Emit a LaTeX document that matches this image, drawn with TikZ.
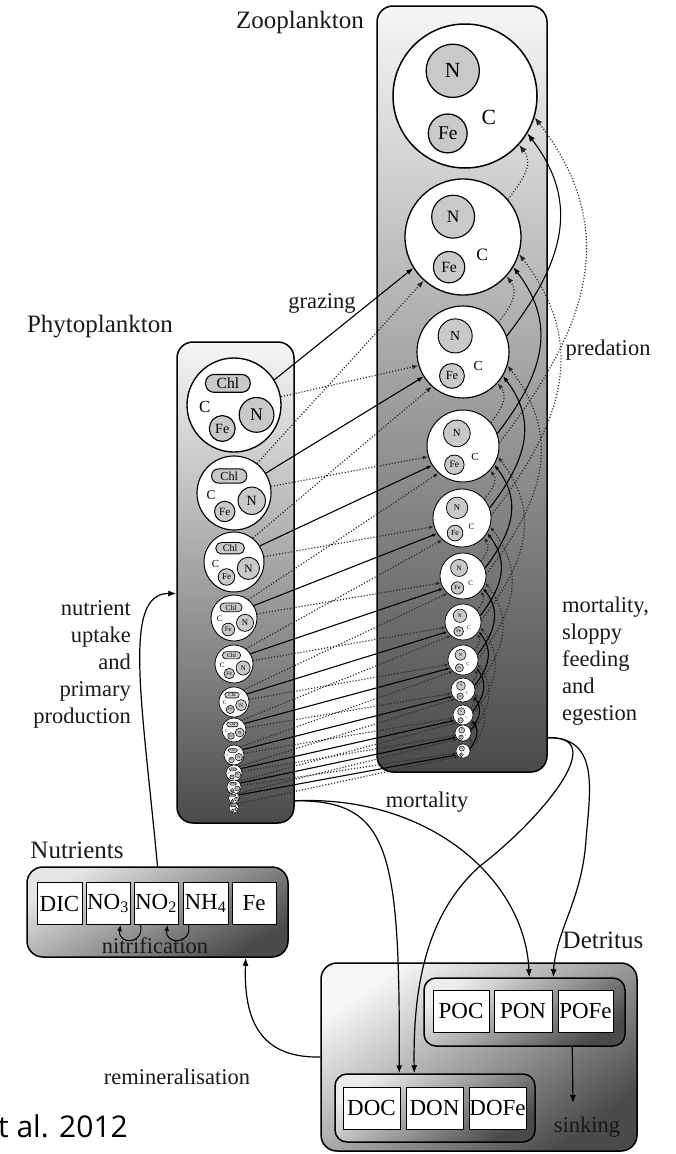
\documentclass[tikz,border=0pt]{standalone}
\usepackage{fontspec}
\setmainfont{Liberation Serif}
\newfontfamily\capfont{Open Sans}
\usetikzlibrary{arrows.meta,calc}
\definecolor{lite}{HTML}{F6F6F6}
\definecolor{dark}{HTML}{4A4A4A}
\definecolor{subfill}{HTML}{C9C9C9}
\tikzset{
  panel/.style={draw=black, line width=1.5pt, rounded corners=16pt, inner sep=0pt},
  grp/.style={draw=black, line width=1.5pt, rounded corners=12pt, inner sep=0pt},
  item/.style={draw=black, line width=1pt, fill=white, inner sep=0pt, minimum height=42pt, font=\fontsize{23}{25}\selectfont},
  cell/.style={draw=black, circle, fill=white, inner sep=0pt},
  subc/.style={draw=black, circle, fill=subfill, inner sep=0pt},
  chlbox/.style={draw=black, rectangle, fill=subfill, inner sep=0pt},
  lab/.style={font=\fontsize{22.5}{27}\selectfont, inner sep=0pt, text=black!90},
  title/.style={font=\fontsize{25}{28}\selectfont, inner sep=0pt, text=black!90},
  flow/.style={line width=1.2pt, -{Latex[length=8pt,width=6pt]}},
  solidline/.style={line width=1.1pt},
  dotline/.style={line width=1.2pt, black!85, dash pattern=on 1.1pt off 1.9pt},
}
% zooplankton cell: name, x, y, r
\newcommand\zoocell[4]{%
  \pgfmathsetmacro\zd{2*#4}%
  \pgfmathsetmacro\zlw{min(1.5,0.4+0.016*#4)}%
  \pgfmathsetmacro\zslw{0.85*\zlw}%
  \node[cell, minimum size=\zd pt, line width=\zlw pt] (#1) at (#2,#3) {};
  \pgfmathsetmacro\znx{#2-0.17*#4}\pgfmathsetmacro\zny{#3-0.35*#4}%
  \pgfmathsetmacro\zns{0.74*#4}\pgfmathsetmacro\znf{0.3*#4}%
  \node[subc, minimum size=\zns pt, line width=\zslw pt, font=\fontsize{\znf}{\znf}\selectfont] (#1n) at (\znx,\zny) {N};
  \pgfmathsetmacro\zfx{#2-0.24*#4}\pgfmathsetmacro\zfy{#3+0.52*#4}%
  \pgfmathsetmacro\zfs{0.54*#4}\pgfmathsetmacro\zff{0.27*#4}%
  \node[subc, minimum size=\zfs pt, line width=\zslw pt, font=\fontsize{\zff}{\zff}\selectfont] (#1fe) at (\zfx,\zfy) {Fe};
  \pgfmathsetmacro\zcx{#2+0.33*#4}\pgfmathsetmacro\zcy{#3+0.3*#4}%
  \node[inner sep=0pt, font=\fontsize{\znf}{\znf}\selectfont] (#1c) at (\zcx,\zcy) {C};
}
% phytoplankton cell: name, x, y, r
\newcommand\phycell[4]{%
  \pgfmathsetmacro\pd{2*#4}%
  \pgfmathsetmacro\plw{min(1.5,0.4+0.02*#4)}%
  \pgfmathsetmacro\pslw{0.85*\plw}%
  \node[cell, minimum size=\pd pt, line width=\plw pt] (#1) at (#2,#3) {};
  \pgfmathsetmacro\pkx{#2-0.13*#4}\pgfmathsetmacro\pky{#3-0.46*#4}%
  \pgfmathsetmacro\pkw{0.95*#4}\pgfmathsetmacro\pkh{0.38*#4}\pgfmathsetmacro\pkr{0.18*#4}%
  \pgfmathsetmacro\pkf{0.33*#4}%
  \node[chlbox, minimum width=\pkw pt, minimum height=\pkh pt, rounded corners=\pkr pt, line width=\pslw pt, font=\fontsize{\pkf}{\pkf}\selectfont] (#1chl) at (\pkx,\pky) {Chl};
  \pgfmathsetmacro\pnx{#2+0.48*#4}\pgfmathsetmacro\pny{#3+0.21*#4}%
  \pgfmathsetmacro\pns{0.74*#4}\pgfmathsetmacro\pnf{0.38*#4}%
  \node[subc, minimum size=\pns pt, line width=\pslw pt, font=\fontsize{\pnf}{\pnf}\selectfont] (#1n) at (\pnx,\pny) {N};
  \pgfmathsetmacro\pfx{#2-0.25*#4}\pgfmathsetmacro\pfy{#3+0.5*#4}%
  \pgfmathsetmacro\pfs{0.55*#4}\pgfmathsetmacro\pff{0.3*#4}%
  \node[subc, minimum size=\pfs pt, line width=\pslw pt, font=\fontsize{\pff}{\pff}\selectfont] (#1fe) at (\pfx,\pfy) {Fe};
  \pgfmathsetmacro\pcx{#2-0.62*#4}\pgfmathsetmacro\pcy{#3+0.05*#4}%
  \pgfmathsetmacro\pcf{0.36*#4}%
  \node[inner sep=0pt, font=\fontsize{\pcf}{\pcf}\selectfont] (#1c) at (\pcx,\pcy) {C};
}
\def\ZX{{465,463,463,463,462,463,463,463,463,463,463,463}}
\def\ZY{{96,237,352,446,518,576,622,660,690,715,733,751}}
\def\ZR{{72,58,46,36,29,23,18,15,12,10,8,7}}
\def\PY{{405,493,562,618,664,702,730,755,773,787,798,808}}
\def\PR{{47,37,30,23,19,15,12,10,8,7,5.5,5}}
\def\SA{{40,20,5}}
\def\DA{{-42,-31,-17}}
\begin{document}
\begin{tikzpicture}[x=1pt,y=-1pt]
\useasboundingbox (0,0) rectangle (676,1154);
\fill[white] (0,0) rectangle (676,1154);

% panels
\node[panel, top color=lite, bottom color=dark, minimum width=170pt, minimum height=766pt] (zoobox) at (462,389) {};
\node[panel, top color=lite, bottom color=dark, minimum width=117pt, minimum height=481pt] (phybox) at (235.5,582.5) {};
\node[panel, top color=gray!20, bottom color=dark, shading angle=30, minimum width=261pt, minimum height=90pt] (nutbox) at (157.5,912) {};
\node[panel, top color=lite, bottom color=dark, shading angle=35, minimum width=316pt, minimum height=188pt] (detbox) at (479,1057) {};
\node[grp, top color=gray!15, bottom color=dark, shading angle=35, minimum width=201pt, minimum height=68pt] (pgroup) at (524.5,1012) {};
\node[grp, top color=gray!15, bottom color=dark, shading angle=35, minimum width=200pt, minimum height=68pt] (dgroup) at (435,1108) {};

% nutrient items
\node[item, minimum width=45pt] (dic) at (59.5,903.5) {DIC};
\node[item, minimum width=44pt] (no3) at (108,903.5) {NO\textsubscript{3}};
\node[item, minimum width=44pt] (no2) at (156,903.5) {NO\textsubscript{2}};
\node[item, minimum width=45pt] (nh4) at (205.5,903.5) {NH\textsubscript{4}};
\node[item, minimum width=44pt] (fe) at (254,903.5) {Fe};

% detritus items
\node[item, minimum width=56pt] (poc) at (461,1011) {POC};
\node[item, minimum width=58pt] (pon) at (523,1011) {PON};
\node[item, minimum width=55pt] (pofe) at (585.5,1011) {POFe};
\node[item, minimum width=57pt] (doc) at (371.5,1108) {DOC};
\node[item, minimum width=57pt] (don) at (434.5,1108) {DON};
\node[item, minimum width=57pt] (dofe) at (497.5,1108) {DOFe};

% cells
\foreach \i in {1,...,12}{
  \pgfmathsetmacro\cx{\ZX[\i-1]}
  \pgfmathsetmacro\cy{\ZY[\i-1]}
  \pgfmathsetmacro\cr{\ZR[\i-1]}
  \zoocell{z\i}{\cx}{\cy}{\cr}
}
\foreach \i in {1,...,12}{
  \pgfmathsetmacro\cy{\PY[\i-1]}
  \pgfmathsetmacro\cr{\PR[\i-1]}
  \phycell{p\i}{234}{\cy}{\cr}
}

% grazing
\foreach \k in {1,...,12}{
  \ifnum\k<12
    \pgfmathtruncatemacro\t{\k+1}
    \pgfmathsetmacro\tr{\ZR[\t-1]}
    \pgfmathsetmacro\al{2.5+0.08*\tr}\pgfmathsetmacro\aw{0.75*\al}
    \draw[solidline, -{Latex[length=\al pt,width=\aw pt]}] (p\k.32) -- (z\t.212);
  \fi
  \ifnum\k<11
    \pgfmathtruncatemacro\t{\k+2}
    \pgfmathsetmacro\tr{\ZR[\t-1]}
    \pgfmathsetmacro\al{2.5+0.08*\tr}\pgfmathsetmacro\aw{0.75*\al}
    \draw[dotline, -{Latex[length=\al pt,width=\aw pt]}] (p\k.10) -- (z\t.197);
  \fi
  \ifnum\k>1
    \pgfmathsetmacro\tr{\ZR[\k-1]}
    \pgfmathsetmacro\al{2.5+0.08*\tr}\pgfmathsetmacro\aw{0.75*\al}
    \draw[dotline, -{Latex[length=\al pt,width=\aw pt]}] (p\k.52) -- (z\k.228);
  \fi
}

% predation
\foreach \j in {1,...,11}{
  \foreach \d in {1,2,3}{
    \pgfmathtruncatemacro\s{\j+\d}
    \ifnum\s<13
      \pgfmathtruncatemacro\sa{\SA[\d-1]}
      \pgfmathtruncatemacro\da{\DA[\d-1]}
      \pgfmathsetmacro\ysrc{\ZY[\s-1]}
      \pgfmathsetmacro\rsrc{\ZR[\s-1]}
      \pgfmathsetmacro\ydst{\ZY[\j-1]}
      \pgfmathsetmacro\rdst{\ZR[\j-1]}
      \pgfmathsetmacro\D{\ysrc-\rsrc*sin(\sa)-\ydst-\rdst*sin(abs(\da))}
      \pgfmathsetmacro\ca{0.27*\D}
      \pgfmathsetmacro\ch{0.35*\D}
      \pgfmathsetmacro\al{2.5+0.08*\rdst}\pgfmathsetmacro\aw{0.75*\al}
      \ifodd\d
        \draw[dotline, -{Latex[length=\al pt,width=\aw pt]}] (z\s.\sa) .. controls +(\ca,-\ch) and +(\ca,\ch) .. (z\j.\da);
      \else
        \draw[solidline, -{Latex[length=\al pt,width=\aw pt]}] (z\s.\sa) .. controls +(\ca,-\ch) and +(\ca,\ch) .. (z\j.\da);
      \fi
    \fi
  }
}

% mortality / detritus flows
\coordinate (zm) at ($(zoobox.south east)+(0,-35)$);
\coordinate (pm) at ($(phybox.south east)+(0,-23)$);
\coordinate (donin) at ($(dgroup.north west)+(80,0)$);
\coordinate (docin) at ($(dgroup.north west)+(65,0)$);
\coordinate (ponin) at ($(pgroup.north west)+(106,0)$);
\coordinate (pofein) at ($(pgroup.north west)+(130,0)$);
\draw[flow] (zm) .. controls (600,737) and (590,790) .. (586,840) .. controls (582,900) and (556,930) .. (pofein);
\draw[flow] (zm) .. controls (612,735) and (540,820) .. (480,866) .. controls (425,915) and (413,990) .. (donin);
\draw[flow] (pm) .. controls (390,800) and (400,850) .. (docin);
\draw[flow] (pm) .. controls (430,795) and (525,880) .. (ponin);

% sinking
\coordinate (sinkend) at (573,1103);
\draw[flow] ($(pgroup.south west)+(149,0)$) -- (sinkend);

% remineralisation
\draw[flow] (detbox.west) .. controls (268,1058) and (243,1030) .. ($(nutbox.south east)+(-43,0)$);

% nutrient uptake
\draw[flow] (nutbox.north) .. controls (142,700) and (122,593) .. ($(phybox.west)+(0,11)$);

% nitrification
\draw[line width=1pt, -{Latex[length=6pt,width=5pt]}] ($(no2.south west)+(7,0)$) .. controls +(4,20) and +(-3,20) .. ($(no3.south east)+(-10,0)$);
\draw[line width=1pt, -{Latex[length=6pt,width=5pt]}] ($(nh4.south west)+(6,0)$) .. controls +(4,20) and +(-3,20) .. ($(no2.south east)+(-11,0)$);

% labels
\node[title] (zoolab) at (300,22) {Zooplankton};
\node[title] (phylab) at (100,327) {Phytoplankton};
\node[lab] (grazlab) at (322,303) {grazing};
\node[lab] (predlab) at (608,350) {predation};
\node[lab, align=right, anchor=east] (uptlab) at (131,664) {nutrient\\uptake\\and\\primary\\production};
\node[lab, align=left, anchor=west] (mortzlab) at (562,661) {mortality,\\sloppy\\feeding\\and\\egestion};
\node[lab] (mortplab) at (427,802) {mortality};
\node[title] (nutlab) at (77,850) {Nutrients};
\node[lab] (nitrlab) at (155,946) {nitrification};
\node[title] (detlab) at (603,940) {Detritus};
\node[lab] (sinklab) at (587,1127) {sinking};
\node[lab] (reminlab) at (177,1077) {remineralisation};
\node[font=\capfont\fontsize{30}{31}\selectfont, anchor=west, inner sep=0pt] (cap) at (-2,1126) {t al. 2012};
\end{tikzpicture}
\end{document}
